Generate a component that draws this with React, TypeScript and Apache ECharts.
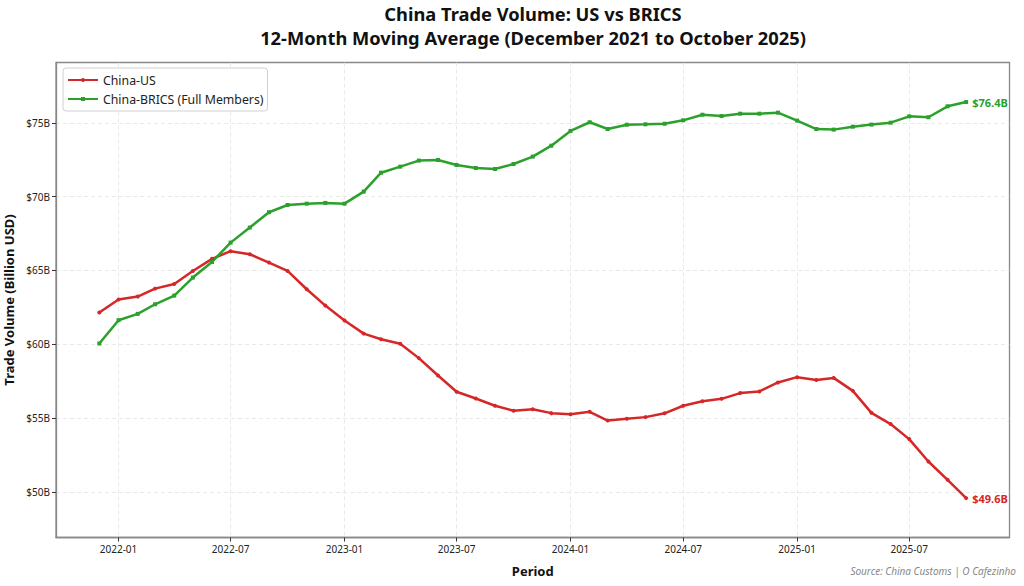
import React, { useEffect, useRef } from "react";
import * as echarts from "echarts";

// Months of the 12-month moving average, Dec 2021 – Oct 2025
const months: string[] = [
  "2021-12",
  "2022-01", "2022-02", "2022-03", "2022-04", "2022-05", "2022-06",
  "2022-07", "2022-08", "2022-09", "2022-10", "2022-11", "2022-12",
  "2023-01", "2023-02", "2023-03", "2023-04", "2023-05", "2023-06",
  "2023-07", "2023-08", "2023-09", "2023-10", "2023-11", "2023-12",
  "2024-01", "2024-02", "2024-03", "2024-04", "2024-05", "2024-06",
  "2024-07", "2024-08", "2024-09", "2024-10", "2024-11", "2024-12",
  "2025-01", "2025-02", "2025-03", "2025-04", "2025-05", "2025-06",
  "2025-07", "2025-08", "2025-09", "2025-10",
];

// China-US trade volume (billion USD)
const chinaUS: number[] = [
  62.15,
  63.03, 63.23, 63.77, 64.09, 64.97, 65.79,
  66.31, 66.10, 65.54, 64.97, 63.73, 62.62,
  61.61, 60.72, 60.34, 60.03, 59.06, 57.88,
  56.78, 56.32, 55.83, 55.49, 55.60, 55.33,
  55.26, 55.42, 54.83, 54.95, 55.06, 55.32,
  55.83, 56.14, 56.30, 56.69, 56.80, 57.41,
  57.77, 57.57, 57.72, 56.84, 55.35, 54.59,
  53.57, 52.05, 50.81, 49.57,
];

// China-BRICS (full members) trade volume (billion USD)
const chinaBRICS: number[] = [
  60.05,
  61.63, 62.06, 62.71, 63.30, 64.52, 65.58,
  66.89, 67.91, 68.95, 69.44, 69.53, 69.58,
  69.53, 70.35, 71.63, 72.04, 72.45, 72.49,
  72.15, 71.95, 71.88, 72.22, 72.72, 73.46,
  74.46, 75.05, 74.59, 74.88, 74.91, 74.95,
  75.18, 75.56, 75.47, 75.63, 75.63, 75.70,
  75.16, 74.59, 74.55, 74.75, 74.89, 75.02,
  75.45, 75.39, 76.13, 76.42,
];

// Tick labels
const xTickMonths: string[] = [
  "2022-01", "2022-07", "2023-01", "2023-07",
  "2024-01", "2024-07", "2025-01", "2025-07",
];
const yTicks: number[] = [50, 55, 60, 65, 70, 75];

const titleLines: string[] = [
  "China Trade Volume: US vs BRICS",
  "12-Month Moving Average (December 2021 to October 2025)",
];

const FONT = "'Noto Sans', 'Open Sans', sans-serif";

function monthTs(m: string): number {
  const [y, mo] = m.split("-").map(Number);
  return Date.UTC(y, mo - 1, 1);
}
function fmtMonth(v: number): string {
  const d = new Date(v);
  return `${d.getUTCFullYear()}-${String(d.getUTCMonth() + 1).padStart(2, "0")}`;
}

export default function App() {
  const ref = useRef<HTMLDivElement>(null);

  useEffect(() => {
    if (!ref.current) return;
    const chart = echarts.init(ref.current, undefined, { renderer: "svg" });
    const first = monthTs(months[0]);
    const last = monthTs(months[months.length - 1]);
    const pad = (last - first) * 0.05;

    const usData = months.map((m, i) => [monthTs(m), chinaUS[i]]);
    const bricsData = months.map((m, i) => [monthTs(m), chinaBRICS[i]]);
    const xTicks = xTickMonths.map(monthTs);

    const endLabel = (color: string) => ({
      show: true,
      color,
      fontFamily: FONT,
      fontWeight: "bold" as const,
      fontSize: 11,
      distance: 6,
      formatter: (p: any) => `$${Number(p.value[1]).toFixed(1)}B`,
    });

    const titleStyle = {
      fontFamily: FONT,
      fontSize: 18.3,
      fontWeight: "bold" as const,
      color: "#111",
      lineHeight: 20,
    };

    chart.setOption({
      animation: false,
      backgroundColor: "#ffffff",
      textStyle: { fontFamily: FONT },
      title: [
        {
          text: titleLines[0],
          left: 533,
          textAlign: "center",
          top: 3,
          padding: 0,
          textStyle: titleStyle,
        },
        {
          text: titleLines[1],
          left: 533,
          textAlign: "center",
          top: 27,
          padding: 0,
          textStyle: titleStyle,
        },
      ],
      graphic: [
        {
          type: "text",
          right: 8,
          top: 566,
          style: {
            text: "Source: China Customs | O Cafezinho",
            fill: "#888",
            font: `italic 10px ${FONT}`,
          },
        },
      ],
      legend: {
        orient: "vertical",
        left: 63,
        top: 68,
        backgroundColor: "#ffffff",
        borderColor: "#d0d0d0",
        borderWidth: 1,
        borderRadius: 3,
        padding: [4, 4, 4, 4],
        itemGap: 3,
        itemWidth: 30,
        itemHeight: 5,
        textStyle: { fontFamily: FONT, fontSize: 12.3, color: "#222", lineHeight: 16 },
        data: ["China-US", "China-BRICS (Full Members)"],
      },
      grid: {
        left: 56,
        right: 14.5,
        top: 62.5,
        bottom: 48.5,
        outerBoundsMode: "none",
        containLabel: false,
        show: true,
        borderColor: "#888",
        borderWidth: 1.3,
        backgroundColor: "transparent",
      },
      xAxis: {
        type: "value",
        min: first - pad,
        max: last + pad,
        name: "Period",
        nameLocation: "middle",
        nameGap: 27,
        nameTextStyle: { fontFamily: FONT, fontSize: 13, fontWeight: "bold", color: "#111" },
        axisLine: { show: true, onZero: false, lineStyle: { color: "#888", width: 1.3 } },
        axisTick: { show: true, length: 4, customValues: xTicks, lineStyle: { color: "#333" } },
        axisLabel: {
          customValues: xTicks,
          fontFamily: FONT,
          fontSize: 10,
          color: "#222",
          margin: 6,
          formatter: (v: number) => fmtMonth(v),
        },
        splitLine: { show: true, lineStyle: { color: "#e3e3e3", type: [4, 3], width: 0.8 } },
      },
      yAxis: {
        type: "value",
        min: 46.9,
        max: 79.1,
        name: "Trade Volume (Billion USD)",
        nameLocation: "middle",
        nameGap: 38,
        nameRotate: 90,
        nameTextStyle: { fontFamily: FONT, fontSize: 13, fontWeight: "bold", color: "#111" },
        axisLine: { show: true, onZero: false, lineStyle: { color: "#888", width: 1.3 } },
        axisTick: { show: true, length: 4, customValues: yTicks, lineStyle: { color: "#333" } },
        axisLabel: {
          customValues: yTicks,
          fontFamily: FONT,
          fontSize: 10,
          color: "#222",
          margin: 6,
          formatter: (v: number) => `$${v}B`,
        },
        splitLine: { show: true, lineStyle: { color: "#e3e3e3", type: [4, 3], width: 0.8 } },
      },
      series: [
        {
          name: "China-US",
          type: "line",
          data: usData,
          color: "#d62728",
          lineStyle: { width: 2.5, color: "#d62728" },
          symbol: "circle",
          symbolSize: 4,
          showSymbol: true,
          itemStyle: { color: "#d62728" },
          endLabel: endLabel("#d62728"),
          z: 3,
        },
        {
          name: "China-BRICS (Full Members)",
          type: "line",
          data: bricsData,
          color: "#2ca02c",
          lineStyle: { width: 2.5, color: "#2ca02c" },
          symbol: "rect",
          symbolSize: 4,
          showSymbol: true,
          itemStyle: { color: "#2ca02c" },
          endLabel: endLabel("#2ca02c"),
          z: 3,
        },
      ],
    });
    return () => chart.dispose();
  }, []);

  return (
    <div
      ref={ref}
      style={{ position: "fixed", left: 0, top: 0, width: 1024, height: 586 }}
    />
  );
}
